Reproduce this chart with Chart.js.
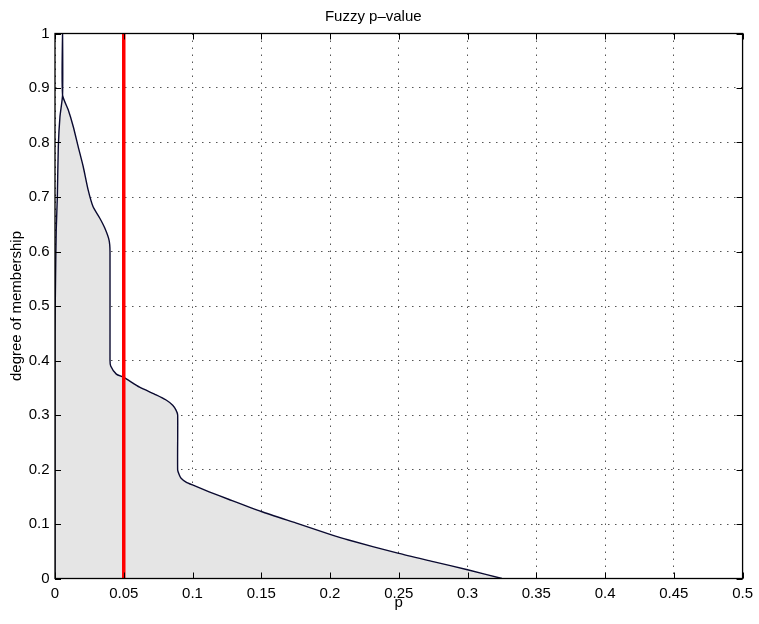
<!DOCTYPE html>
<html>
<head>
<meta charset="utf-8">
<script src="https://cdn.jsdelivr.net/npm/chart.js@4/dist/chart.umd.min.js"></script>
<style>
  body { margin: 0; background: #fff; }
</style>
</head>
<body>
<canvas id="graph" width="759" height="624"></canvas>
<script>
// données
var pValues = [0, 0, 0.0004, 0.0009, 0.0017, 0.0024, 0.0036, 0.0055, 0.0055, 0.0055,
  0.0096, 0.0133, 0.0169, 0.0205, 0.0241, 0.0277, 0.0326, 0.0362, 0.0393, 0.04,
  0.04, 0.0405, 0.0446, 0.05, 0.0615, 0.0736, 0.0808, 0.0856, 0.088, 0.0892,
  0.0892, 0.0904, 0.0917, 0.0953, 0.1, 0.1121, 0.1266, 0.15, 0.175, 0.2, 0.2135, 0.25, 0.275, 0.3, 0.325];
var membership = [0, 0.45, 0.55, 0.64, 0.70, 0.792, 0.847, 0.887, 1, 0.887,
  0.86, 0.829, 0.792, 0.756, 0.713, 0.682, 0.661, 0.643, 0.621, 0.6,
  0.401, 0.39, 0.375, 0.369, 0.351, 0.337, 0.3275, 0.318, 0.309, 0.3,
  0.199, 0.19, 0.184, 0.177, 0.1716, 0.159, 0.145, 0.123, 0.102, 0.081, 0.0706, 0.046, 0.031, 0.016, 0];

var alphaLevel = 0.05;

var xTickValues = [0, 0.05, 0.1, 0.15, 0.2, 0.25, 0.3, 0.35, 0.4, 0.45, 0.5];
var xTickLabels = ["0", "0.05", "0.1", "0.15", "0.2", "0.25", "0.3", "0.35", "0.4", "0.45", "0.5"];
var yTickValues = [0, 0.1, 0.2, 0.3, 0.4, 0.5, 0.6, 0.7, 0.8, 0.9, 1];
var yTickLabels = ["0", "0.1", "0.2", "0.3", "0.4", "0.5", "0.6", "0.7", "0.8", "0.9", "1"];

var curve = [];
for (let i = 0; i < pValues.length; i++) {
  curve.push({x: pValues[i], y: membership[i]});
}
var redLine = [{x: alphaLevel, y: 0}, {x: alphaLevel, y: 1}];

var police = "'Liberation Sans', Arial, Helvetica, sans-serif";

// cadre + petites graduations vers l'intérieur (style matlab)
var boxPlugin = {
  id: 'box',
  afterDatasetsDraw: function(chart) {
    var ctx = chart.ctx;
    var a = chart.chartArea;
    var xs = chart.scales.x, ys = chart.scales.y;
    ctx.save();
    ctx.strokeStyle = '#000';
    ctx.lineWidth = 1;
    ctx.beginPath();
    xTickValues.forEach(function(v) {
      var px = Math.round(xs.getPixelForValue(v)) + 0.5;
      ctx.moveTo(px, a.bottom); ctx.lineTo(px, a.bottom - 6);
      ctx.moveTo(px, a.top); ctx.lineTo(px, a.top + 6);
    });
    yTickValues.forEach(function(v) {
      var py = Math.round(ys.getPixelForValue(v)) + 0.5;
      ctx.moveTo(a.left, py); ctx.lineTo(a.left + 6, py);
      ctx.moveTo(a.right, py); ctx.lineTo(a.right - 6, py);
    });
    ctx.stroke();
    ctx.lineWidth = 1.3;
    ctx.strokeRect(a.left, a.top, a.right - a.left, a.bottom - a.top);
    ctx.restore();
  }
};

var graph = new Chart(document.getElementById('graph').getContext('2d'), {
  type: 'line',
  data: {
    datasets: [{
      data: curve,
      borderColor: '#0a0a30',
      borderWidth: 1.4,
      backgroundColor: '#e5e5e5',
      fill: 'origin',
      pointRadius: 0,
      tension: 0.2,
      order: 2
    }, {
      data: redLine,
      borderColor: '#ff0000',
      borderWidth: 3.5,
      fill: false,
      pointRadius: 0,
      order: 1
    }]
  },
  options: {
    responsive: false,
    animation: false,
    layout: { padding: { left: 0, right: 12.5, top: 0, bottom: 0 } },
    plugins: {
      legend: { display: false },
      tooltip: { enabled: false },
      title: {
        display: true,
        text: 'Fuzzy p–value',
        color: '#000',
        font: { family: police, size: 15, weight: 'normal' },
        padding: { top: 7.5, bottom: 8 }
      }
    },
    scales: {
      x: {
        type: 'linear',
        min: 0,
        max: 0.5,
        afterBuildTicks: function(s) { s.ticks = xTickValues.map(function(v) { return {value: v}; }); },
        afterFit: function(s) { s.height = 45.5; },
        ticks: {
          color: '#000',
          font: { family: police, size: 15 },
          padding: 6,
          maxRotation: 0,
          callback: function(v, i) { return xTickLabels[i]; }
        },
        grid: { color: '#555', lineWidth: 1, drawTicks: false },
        border: { display: false, dash: [1.5, 5.5] },
        title: {
          display: true,
          text: 'p',
          color: '#000',
          font: { family: police, size: 15 },
          padding: { top: 0, bottom: 12 }
        }
      },
      y: {
        min: 0,
        max: 1,
        afterBuildTicks: function(s) { s.ticks = yTickValues.map(function(v) { return {value: v}; }); },
        afterFit: function(s) { s.width = 55; },
        ticks: {
          color: '#000',
          font: { family: police, size: 15 },
          padding: 5.5,
          callback: function(v, i) { return yTickLabels[i]; }
        },
        grid: { color: '#555', lineWidth: 1, drawTicks: false },
        border: { display: false, dash: [1.5, 5.5] },
        title: {
          display: true,
          text: 'degree of membership',
          color: '#000',
          font: { family: police, size: 15 },
          padding: { top: 8, bottom: 0 }
        }
      }
    }
  },
  plugins: [boxPlugin]
});
</script>
</body>
</html>
